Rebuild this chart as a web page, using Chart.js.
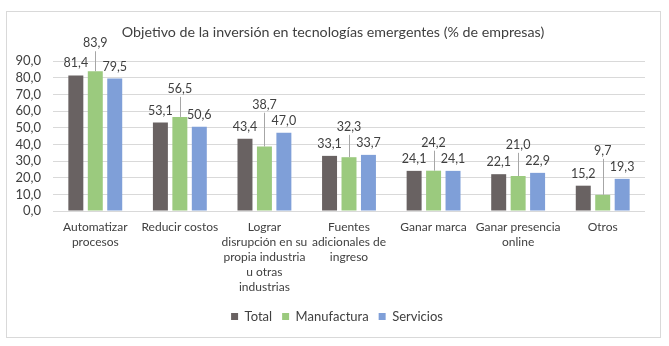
<!DOCTYPE html>
<html>
<head>
<meta charset="utf-8">
<script src="https://cdn.jsdelivr.net/npm/chart.js@4.4.1/dist/chart.umd.min.js"></script>
<style>
    html, body { margin: 0; padding: 0; background: #fff; }
    #marco {
        position: absolute; left: 6px; top: 11px;
        width: 655px; height: 327px;
        border: 1px solid #d9d9d9; box-sizing: border-box;
    }
</style>
</head>
<body>
<div id="marco"><canvas id="inversionChart"></canvas></div>
<script>
const categorias = [
    ['Automatizar', 'procesos'],
    ['Reducir costos'],
    ['Lograr', 'disrupción en su', 'propia industria', 'u otras', 'industrias'],
    ['Fuentes', 'adicionales de', 'ingreso'],
    ['Ganar marca'],
    ['Ganar presencia', 'online'],
    ['Otros']
];
const total = [81.4, 53.1, 43.4, 33.1, 24.1, 22.1, 15.2];
const manufactura = [83.9, 56.5, 38.7, 32.3, 24.2, 21.0, 9.7];
const servicios = [79.5, 50.6, 47.0, 33.7, 24.1, 22.9, 19.3];
const ticksY = [0, 10, 20, 30, 40, 50, 60, 70, 80, 90];

const fuente = 'Lato, "Open Sans", sans-serif';
const fmt = v => v.toFixed(1).replace('.', ',');

// etiquetas de datos estilo Excel: verdes con linea guia
const etiquetas = {
    id: 'etiquetas',
    afterLayout(chart) {
        // titulo y leyenda centrados en todo el marco, no solo sobre el area util
        chart.titleBlock.left += 7; chart.titleBlock.right += 7;
        chart.legend.left += 11; chart.legend.right += 11;
    },
    afterDatasetsDraw(chart) {
        const ctx = chart.ctx;
        const metas = [0, 1, 2].map(i => chart.getDatasetMeta(i));
        ctx.save();
        ctx.font = '12.5px ' + fuente;
        ctx.fillStyle = '#404040';
        ctx.textAlign = 'center';
        ctx.textBaseline = 'middle';
        categorias.forEach((c, j) => {
            [0, 2].forEach(i => {
                const bar = metas[i].data[j];
                const v = chart.data.datasets[i].data[j];
                ctx.fillText(fmt(v), bar.x, bar.y - 12);
            });
            const verde = metas[1].data[j];
            const arriba = Math.min(metas[0].data[j].y, verde.y, metas[2].data[j].y);
            const yl = arriba - 28;
            ctx.fillText(fmt(manufactura[j]), verde.x, yl);
            ctx.strokeStyle = '#a6a6a6';
            ctx.lineWidth = 1;
            ctx.beginPath();
            ctx.moveTo(Math.round(verde.x) + 0.5, yl + 8);
            ctx.lineTo(Math.round(verde.x) + 0.5, verde.y);
            ctx.stroke();
        });
        ctx.restore();
    }
};

new Chart(document.getElementById('inversionChart'), {
    type: 'bar',
    data: {
        labels: categorias,
        datasets: [
            {label: 'Total', data: total, backgroundColor: '#696262'},
            {label: 'Manufactura', data: manufactura, backgroundColor: '#9bca7e'},
            {label: 'Servicios', data: servicios, backgroundColor: '#7f9fd8'}
        ]
    },
    options: {
        responsive: true,
        maintainAspectRatio: false,
        animation: false,
        categoryPercentage: 0.69,
        barPercentage: 0.77,
        layout: {padding: {left: 0, right: 15, top: 0, bottom: 4}},
        plugins: {
            title: {
                display: true,
                text: 'Objetivo de la inversión en tecnologías emergentes (% de empresas)',
                color: '#404040',
                font: {family: fuente, size: 14.25, weight: 'normal', lineHeight: 1.2},
                padding: {top: 12, bottom: 20}
            },
            legend: {
                position: 'bottom',
                labels: {
                    boxWidth: 7, boxHeight: 7, padding: 10,
                    color: '#404040',
                    font: {family: fuente, size: 13}
                }
            },
            tooltip: {enabled: false}
        },
        scales: {
            x: {
                grid: {display: false, drawTicks: false},
                border: {display: false},
                ticks: {
                    autoSkip: false, maxRotation: 0, padding: 9,
                    color: '#404040',
                    font: {family: fuente, size: 12, lineHeight: 1.25}
                },
                afterFit: s => { s.height = 89; }
            },
            y: {
                min: 0, max: 90,
                afterBuildTicks: s => { s.ticks = ticksY.map(v => ({value: v})); },
                grid: {color: '#d9d9d9', drawTicks: false},
                border: {display: false},
                ticks: {
                    autoSkip: false,
                    padding: 12,
                    color: '#404040',
                    font: {family: fuente, size: 13},
                    callback: v => fmt(v)
                },
                afterFit: s => { s.width = 46; }
            }
        }
    },
    plugins: [etiquetas]
});
</script>
</body>
</html>
